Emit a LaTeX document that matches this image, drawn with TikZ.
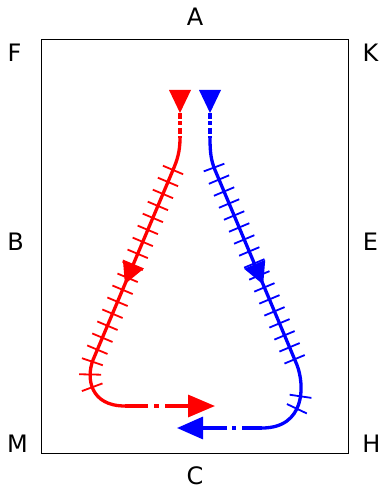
\documentclass[tikz,border=0pt]{standalone}
\usepackage{fontspec}
\setmainfont{DejaVu Sans}
\usetikzlibrary{arrows.meta,decorations.markings}
\begin{document}
\begin{tikzpicture}[x=1pt,y=-1pt,
  lbl/.style={font=\fontsize{24}{24}\selectfont, inner sep=0pt, anchor=center},
  frame/.style={draw=black, line width=1.3pt, minimum width=306.6pt, minimum height=414pt, inner sep=0pt},
  flow/.style={line width=3.3pt, line join=round},
  dashdot/.style={flow, dash pattern=on 6pt off 2.5pt on 4pt off 2.5pt on 6pt off 2.5pt on 4pt off 2.5pt},
  ticks/.style={postaction={decorate, decoration={markings,
      mark=between positions #1 step 13pt with {\draw[line width=1.8pt] (0pt,-11pt) -- (0pt,11pt);}}}},
  midarrow/.style={postaction={decorate, decoration={markings,
      mark=at position #1 with {\arrow{Triangle[length=22pt,width=22pt]}}}}},
]
\useasboundingbox (0,0) rectangle (383,494);

% field
\node[frame] (field) at (195,246.3) {};

% letters
\node[lbl] (A) at (195,16.5) {A};
\node[lbl] (F) at (14.5,52.5) {F};
\node[lbl] (K) at (370.5,52.5) {K};
\node[lbl] (B) at (15.5,242) {B};
\node[lbl] (E) at (370.5,242) {E};
\node[lbl] (M) at (17.5,444) {M};
\node[lbl] (H) at (371.5,444) {H};
\node[lbl] (C) at (195,475.5) {C};

% red track
\begin{scope}[red]
  \coordinate (r0) at (180,113);
  \coordinate (r1) at (180,138);
  \coordinate (r2) at (173,170);
  \coordinate (r3) at (93,360);
  \coordinate (r4) at (125,406);
  \coordinate (r5) at (215,406);
  \fill (r0) -- ++(-11,-23) -- ++(22,0) -- cycle;
  \draw[dashdot] (r0) -- (r1);
  \draw[flow, ticks={33pt and 272pt}, midarrow=157pt]
    (r1) .. controls (180,152) and (177,160.5) .. (r2) -- (r3)
    .. controls (86,378) and (90,406) .. (r4);
  \draw[flow, dash pattern=on 23pt off 6pt on 5pt off 6pt on 60pt,
    -{Triangle[length=27pt,width=22pt]}] (r4) -- (r5);
\end{scope}

% blue track
\begin{scope}[blue]
  \coordinate (b0) at (210,113);
  \coordinate (b1) at (210,138);
  \coordinate (b2) at (215,170);
  \coordinate (b3) at (297,365);
  \coordinate (b4) at (262,428);
  \coordinate (b5) at (177,428);
  \fill (b0) -- ++(-11,-23) -- ++(22,0) -- cycle;
  \draw[dashdot] (b0) -- (b1);
  \draw[flow, ticks={30pt and 250pt}, ticks={276pt and 290pt}, midarrow=157pt]
    (b1) .. controls (210,152) and (211,160.5) .. (b2) -- (b3)
    .. controls (305,386) and (305,428) .. (b4);
  \draw[flow, dash pattern=on 20pt off 6pt on 4pt off 5pt on 60pt,
    -{Triangle[length=26pt,width=22pt]}] (b4) -- (b5);
\end{scope}
\end{tikzpicture}
\end{document}
